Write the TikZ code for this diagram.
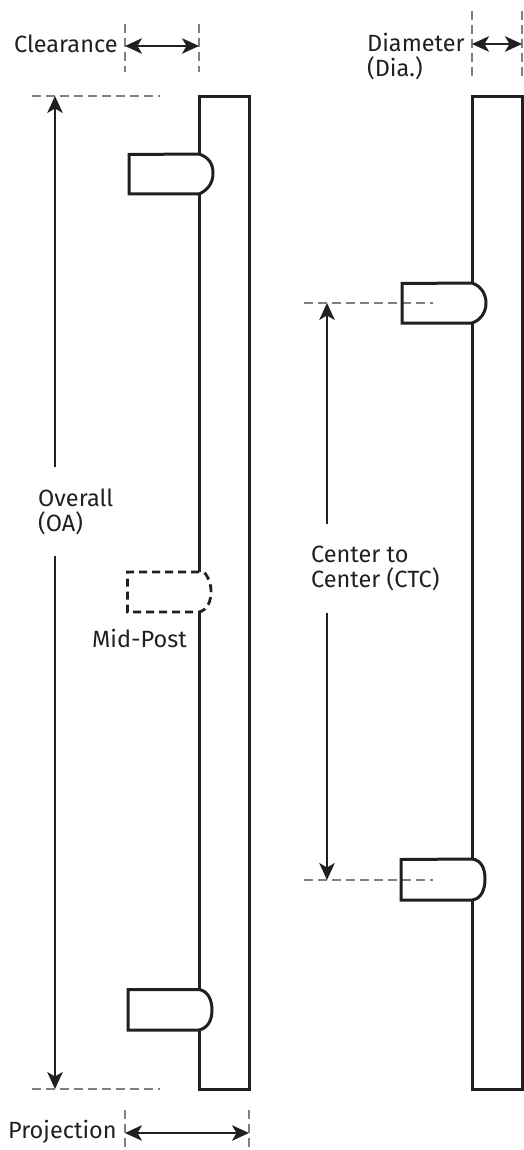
\documentclass[tikz,border=0pt]{standalone}
\usepackage{fontspec}
\setmainfont{Fira Sans}
\usetikzlibrary{arrows.meta}
\definecolor{ink}{HTML}{231F20}
\definecolor{dashgrey}{HTML}{808080}
\tikzset{
 x=1pt,y=-1pt,
 outline/.style={draw=ink,line width=3pt,line join=miter},
 midout/.style={draw=ink,line width=2.8pt,dash pattern=on 8pt off 5pt},
 guide/.style={draw=dashgrey,line width=1.1pt,dash pattern=on 9pt off 5pt},
 dim/.style={draw=ink,line width=1.9pt},
 tip/.style={-{Stealth[length=17pt,width=15.5pt,inset=4.5pt]}},
 tips/.style={{Stealth[length=17pt,width=15.5pt,inset=4.5pt]}-{Stealth[length=17pt,width=15.5pt,inset=4.5pt]}},
 lab/.style={text=ink,font=\fontsize{23.5}{25}\selectfont,align=left,inner sep=0pt,anchor=north west},
}
\begin{document}
\begin{tikzpicture}
\useasboundingbox (0,0) rectangle (524,1150);
% guides
\coordinate (clA) at (125,24); \coordinate (clB) at (125,72);
\coordinate (clC) at (199,24); \coordinate (clD) at (199,72);
\coordinate (clL) at (125,46); \coordinate (clR) at (199,46);
\draw[guide] (clA)--(clB); \draw[guide] (clC)--(clD);
\draw[dim,tips] (clL)--(clR);
\coordinate (diA) at (472,11); \coordinate (diB) at (472,80);
\coordinate (diC) at (522,11); \coordinate (diD) at (522,80);
\coordinate (diL) at (472,44); \coordinate (diR) at (522,44);
\draw[guide] (diA)--(diB); \draw[guide] (diC)--(diD);
\draw[dim,tips] (diL)--(diR);
\coordinate (prA) at (125,1110); \coordinate (prB) at (125,1150);
\coordinate (prC) at (249,1110); \coordinate (prD) at (249,1150);
\coordinate (prL) at (125,1133); \coordinate (prR) at (249,1133);
\draw[guide] (prA)--(prB); \draw[guide] (prC)--(prD);
\draw[dim,tips] (prL)--(prR);
\coordinate (oaT1) at (32,96); \coordinate (oaT2) at (160,96);
\coordinate (oaB1) at (32,1089); \coordinate (oaB2) at (160,1089);
\draw[guide] (oaT1)--(oaT2); \draw[guide] (oaB1)--(oaB2);
\coordinate (oaT) at (55,96); \coordinate (oaM1) at (55,467);
\coordinate (oaM2) at (55,556); \coordinate (oaB) at (55,1089);
\draw[dim,tip] (oaM1)--(oaT); \draw[dim,tip] (oaM2)--(oaB);
\coordinate (ctT1) at (304,303); \coordinate (ctT2) at (433,303);
\coordinate (ctB1) at (304,880); \coordinate (ctB2) at (433,880);
\draw[guide] (ctT1)--(ctT2); \draw[guide] (ctB1)--(ctB2);
\coordinate (ctT) at (327,303); \coordinate (ctM1) at (327,524);
\coordinate (ctM2) at (327,613); \coordinate (ctB) at (327,880);
\draw[dim,tip] (ctM1)--(ctT); \draw[dim,tip] (ctM2)--(ctB);
% left bar
\draw[outline] (199,154) -- (199,96.5) -- (249.5,96.5) -- (249.5,1089) -- (199,1089) -- (199,1030);
\draw[outline] (199,194) -- (199,572);
\draw[outline] (199,612) -- (199,990);
\draw[outline] (199,154) -- (129,154.5) -- (129,194) -- (199,194) .. controls (208,190) and (213,183) .. (213,173) .. controls (213,163) and (208,157) .. (199,154) -- cycle;
\draw[outline] (199,989.5) -- (128,989.5) -- (128,1030) -- (199,1030) .. controls (208,1028) and (212,1020) .. (212,1010) .. controls (212,1000) and (208,991) .. (199,989.5) -- cycle;
\draw[midout] (199,572) -- (127.5,572) -- (127.5,612) -- (199,612) .. controls (208,610) and (211,600) .. (211,592) .. controls (211,584) and (209,578) .. (204,572);
% right bar
\draw[outline] (472,283) -- (472,96.5) -- (522,96.5) -- (522,1089) -- (472,1089) -- (472,900);
\draw[outline] (472,323) -- (472,859);
\draw[outline] (472,283) -- (402,283.5) -- (402,323) -- (472,323) .. controls (481,320) and (486,312) .. (486,303) .. controls (486,294) and (481,286) .. (472,283) -- cycle;
\draw[outline] (472,859) -- (401,859.5) -- (401,900) -- (472,900) .. controls (481,899) and (485,890) .. (485,879) .. controls (485,868) and (481,860) .. (472,859) -- cycle;
% labels
\node[lab] (clearance) at (14,35) {Clearance};
\node[lab] (diameter) at (367,33) {Diameter\\(Dia.)};
\node[lab] (overall) at (38,489) {Overall\\(OA)};
\node[lab] (midpost) at (92,629) {Mid-Post};
\node[lab] (ctc) at (311,546) {Center to\\Center (CTC)};
\node[lab] (projection) at (8,1120) {Projection};
\end{tikzpicture}
\end{document}
